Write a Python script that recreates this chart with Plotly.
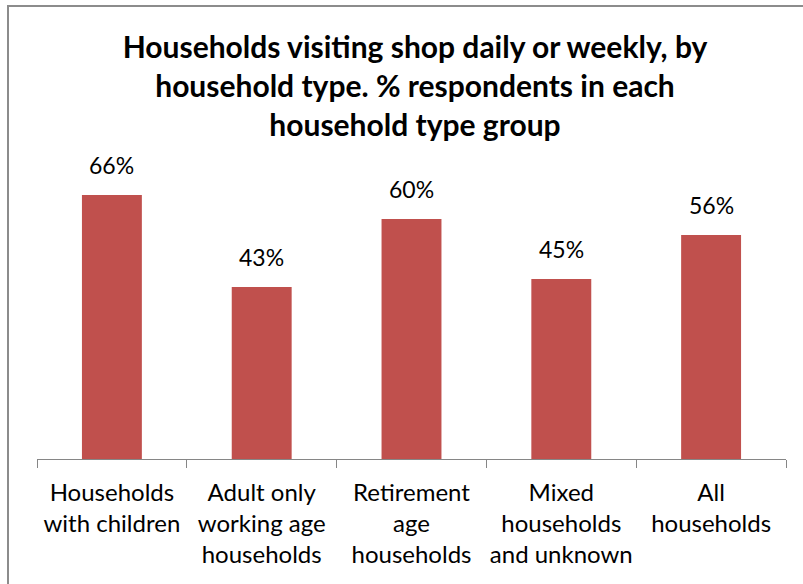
import plotly.graph_objects as go

categories = [
    "Households<br>with children",
    "Adult only<br>working age<br>households",
    "Retirement<br>age<br>households",
    "Mixed<br>households<br>and unknown",
    "All<br>households",
]
values = [66, 43, 60, 45, 56]
value_labels = ["66%", "43%", "60%", "45%", "56%"]

W, H = 803, 584
L, R, T, B = 37, 17, 179, 125
pw, ph = W - L - R, H - T - B

def px(x):
    return (x - L) / pw

def py(y):
    return 1 - (y - T) / ph

font_family = "Lato, Carlito, 'Liberation Sans', sans-serif"

fig = go.Figure(go.Bar(
    x=categories,
    y=values,
    marker=dict(color="#C0504D", line=dict(width=0)),
    width=0.4,
    hoverinfo="skip",
))

for c, v, t in zip(categories, values, value_labels):
    fig.add_annotation(
        x=c, y=v, xref="x", yref="y", text=t, showarrow=False,
        yanchor="bottom", yshift=14,
        font=dict(size=23, family=font_family, color="#000000"),
    )

fig.update_layout(
    width=W, height=H,
    margin=dict(l=L, r=R, t=T, b=B, autoexpand=False),
    paper_bgcolor="white",
    plot_bgcolor="white",
    showlegend=False,
    font=dict(family=font_family, color="#000000"),
    title=dict(
        text="<b>Households visiting shop daily or weekly, by<br>household type. % respondents in each<br>household type group</b>",
        x=px(415), xref="paper", xanchor="center",
        y=1 - 58 / H, yref="container", yanchor="top",
        font=dict(size=30, family=font_family, color="#000000"),
    ),
    xaxis=dict(
        showline=True, linecolor="#868686", linewidth=1,
        ticks="outside", ticklen=8, tickcolor="#868686",
        tickson="boundaries",
        tickangle=0,
        automargin=False,
        ticklabelstandoff=12,
        tickfont=dict(size=24, family=font_family, color="#000000"),
        showgrid=False,
    ),
    yaxis=dict(
        range=[0, 70],
        visible=False,
        showgrid=False,
        zeroline=False,
        automargin=False,
    ),
)

# chart-area border (left and top edges visible; others run off the image)
fig.add_shape(type="rect", xref="paper", yref="paper",
              x0=px(8), x1=px(W + 20), y0=py(H + 20), y1=py(6),
              line=dict(color="#8C8C8C", width=2), fillcolor="rgba(0,0,0,0)",
              layer="above")

fig.write_html(
    "out.html",
    config=dict(displayModeBar=False),
    post_script="document.body.style.margin='0';document.body.style.overflow='hidden';",
)
